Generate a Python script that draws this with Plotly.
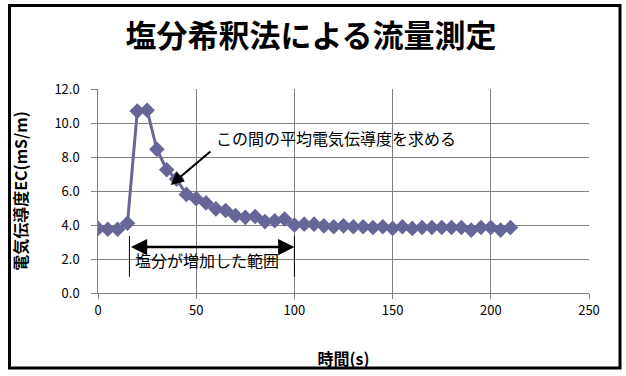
import plotly.graph_objects as go

time_s = [0, 5, 10, 15, 20, 25, 30, 35, 40, 45, 50, 55, 60, 65, 70, 75, 80, 85, 90, 95,
          100, 105, 110, 115, 120, 125, 130, 135, 140, 145, 150, 155, 160, 165, 170, 175,
          180, 185, 190, 195, 200, 205, 210]
ec_values = [3.8, 3.75, 3.75, 4.1, 10.7, 10.75, 8.45, 7.25, 6.7, 5.8, 5.55, 5.3, 4.95, 4.85,
             4.55, 4.45, 4.5, 4.2, 4.25, 4.35, 4.0, 4.05, 4.05, 3.95, 3.9, 3.95, 3.9, 3.9,
             3.85, 3.9, 3.8, 3.9, 3.8, 3.85, 3.85, 3.85, 3.85, 3.85, 3.7, 3.85, 3.85, 3.7, 3.85]
x_ticks = [0, 50, 100, 150, 200, 250]
y_ticks = [0, 2, 4, 6, 8, 10, 12]

title_text = "塩分希釈法による流量測定"
x_title = "時間(s)"
y_title = "電気伝導度EC(mS/m)"
note_text = "この間の平均電気伝導度を求める"
range_text = "塩分が増加した範囲"
range_start, range_end = 16, 100

FONT = "Noto Sans CJK JP"
L, R, T, B = 98, 37, 89, 83
W, H = 626, 376
pw, ph = W - L - R, H - T - B

def px(xp):
    return (xp - L) / pw

def py(yp):
    return (H - B - yp) / ph

fig = go.Figure()
fig.add_trace(go.Scatter(
    x=time_s, y=ec_values, mode="lines+markers",
    line=dict(color="#666699", width=3),
    marker=dict(symbol="diamond", size=12, color="#666699"),
    showlegend=False,
))

fig.update_layout(
    width=W, height=H,
    margin=dict(l=L, r=R, t=T, b=B),
    paper_bgcolor="white", plot_bgcolor="white",
    font=dict(family=FONT, color="black"),
    title=dict(text=f"<b>{title_text}</b>", xref="container", x=311 / W, xanchor="center",
               yref="container", y=1 - 36 / H, yanchor="middle",
               font=dict(size=31, family=FONT)),
    xaxis=dict(range=[0, 250], tickvals=x_ticks, ticktext=[str(v) for v in x_ticks],
               showgrid=True, gridcolor="#808080", gridwidth=1,
               showline=True, linecolor="#808080", linewidth=1,
               ticks="outside", ticklen=5, tickcolor="#808080",
               tickfont=dict(size=13, family=FONT), zeroline=False, automargin=False,
               title=dict(text=f"<b>{x_title}</b>", font=dict(size=16, family=FONT), standoff=36)),
    yaxis=dict(range=[0, 12], tickvals=y_ticks,
               ticktext=[f"{v:.1f}\u00a0\u00a0\u00a0" for v in y_ticks],
               showgrid=True, gridcolor="#808080", gridwidth=1,
               showline=True, linecolor="#808080", linewidth=1,
               ticks="outside", ticklen=6, tickcolor="#808080",
               tickfont=dict(size=13, family=FONT), zeroline=False, automargin=False,
               title=dict(text=f"<b>{y_title}</b>", font=dict(size=16, family=FONT), standoff=22)),
)

# outer border
fig.add_shape(type="rect", xref="paper", yref="paper",
              x0=px(9.5), x1=px(620), y0=py(368), y1=py(5.5),
              line=dict(color="black", width=3), fillcolor="rgba(0,0,0,0)")

# note arrow + text
fig.add_annotation(x=37, y=6.35, ax=58, ay=8.4, xref="x", yref="y", axref="x", ayref="y",
                   text="", showarrow=True, arrowhead=2, arrowsize=1.3, arrowwidth=2,
                   arrowcolor="black")
fig.add_annotation(x=59, y=9.1, xref="x", yref="y", text=note_text, showarrow=False,
                   xanchor="left", yanchor="middle", font=dict(size=16, family=FONT))

# range double arrow
fig.add_annotation(x=range_end, y=2.7, ax=range_start, ay=2.7, xref="x", yref="y",
                   axref="x", ayref="y", text="", showarrow=True, arrowhead=2,
                   startarrowhead=2, arrowside="end+start", arrowsize=1.3, startarrowsize=1.3,
                   arrowwidth=2.5, arrowcolor="black")
for xv in (range_start, range_end):
    fig.add_shape(type="line", xref="x", yref="y", x0=xv, x1=xv, y0=0.95, y1=3.35,
                  line=dict(color="black", width=1))
fig.add_annotation(x=18, y=1.95, xref="x", yref="y", text=range_text, showarrow=False,
                   xanchor="left", yanchor="middle", font=dict(size=16, family=FONT))

fig.write_html("out.html", config={"displayModeBar": False},
               post_script="document.body.style.margin='0';")
